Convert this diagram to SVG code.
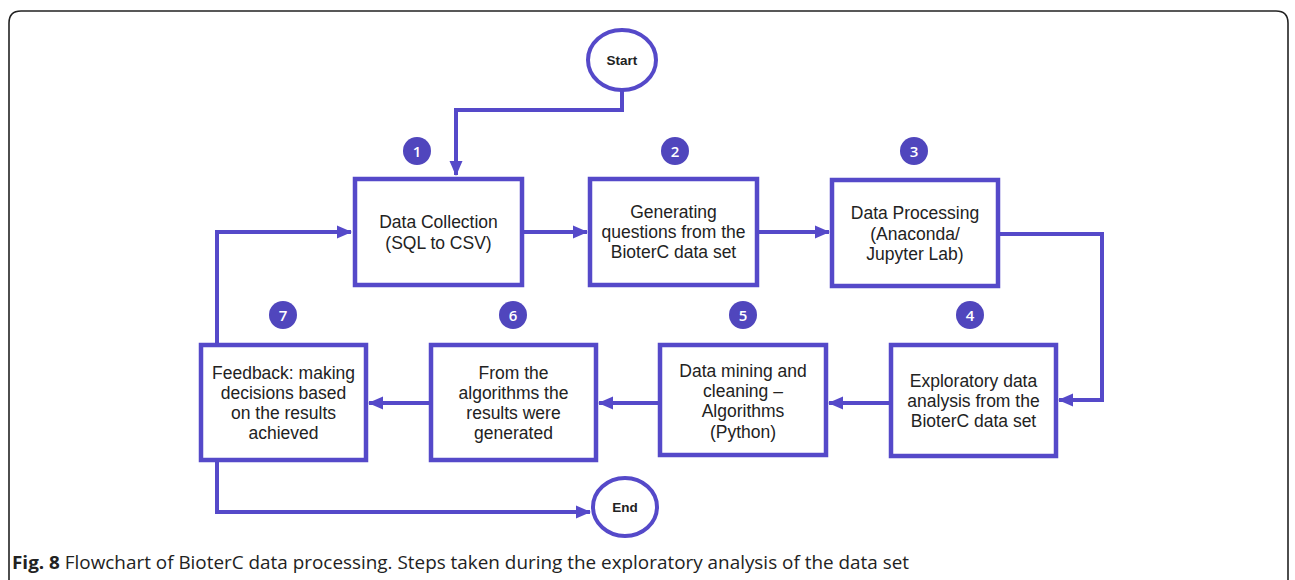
<svg xmlns="http://www.w3.org/2000/svg" width="1295" height="580" viewBox="0 0 1295 580">
<defs>
<style>
.box{fill:#fff;stroke:#5549c9;stroke-width:4.5}
.term{fill:#fff;stroke:#5549c9;stroke-width:4}
.con{fill:none;stroke:#5549c9;stroke-width:4}
.badge{fill:#5046bd}
.num{font-family:"Open Sans","DejaVu Sans",sans-serif;font-size:15px;font-weight:600;fill:#fff;text-anchor:middle}
.lbl{font-family:"Liberation Sans",Arial,sans-serif;font-size:17.5px;fill:#222;text-anchor:middle}
.tl{font-family:"Liberation Sans",Arial,sans-serif;font-size:13.5px;font-weight:bold;fill:#222;text-anchor:middle}
.cap{font-family:"Open Sans","DejaVu Sans",sans-serif;font-size:18px;fill:#222}
</style>
<marker id="ah" markerUnits="userSpaceOnUse" markerWidth="15" markerHeight="15" viewBox="0 0 15 15" refX="14" refY="7.5" orient="auto">
<path d="M0,1 L15,7.5 L0,14 Z" fill="#5549c9"/>
</marker>
</defs>
<rect width="1295" height="580" fill="#fff"/>
<path d="M9,590 L9,23 Q9,11 21,11 L1276,11 Q1288,11 1288,23 L1288,590" fill="none" stroke="#222" stroke-width="1.6"/>

<g id="connectors">
<path class="con" d="M622,90 L622,110 L456,110 L456,175" marker-end="url(#ah)"/>
<path class="con" d="M523,232 L587,232" marker-end="url(#ah)"/>
<path class="con" d="M758,232 L829,232" marker-end="url(#ah)"/>
<path class="con" d="M999,234 L1102,234 L1102,400 L1059,400" marker-end="url(#ah)"/>
<path class="con" d="M890,403 L829,403" marker-end="url(#ah)"/>
<path class="con" d="M659,403 L599,403" marker-end="url(#ah)"/>
<path class="con" d="M430,403 L369,403" marker-end="url(#ah)"/>
<path class="con" d="M217,344 L217,232 L351,232" marker-end="url(#ah)"/>
<path class="con" d="M217,461 L217,512 L590,512" marker-end="url(#ah)"/>
</g>

<g id="start">
<ellipse class="term" cx="622" cy="60" rx="34" ry="30"/>
<text class="tl" x="622" y="65">Start</text>
</g>
<g id="end">
<ellipse class="term" cx="625" cy="507" rx="32" ry="29"/>
<text class="tl" x="625" y="512">End</text>
</g>

<g id="step1">
<circle class="badge" cx="417" cy="151" r="14"/>
<text class="num" x="417" y="156.5">1</text>
<rect class="box" x="355" y="179" width="167" height="106"/>
<text class="lbl" x="438.5" y="228">Data Collection</text>
<text class="lbl" x="438.5" y="249">(SQL to CSV)</text>
</g>
<g id="step2">
<circle class="badge" cx="675" cy="151" r="14"/>
<text class="num" x="675" y="156.5">2</text>
<rect class="box" x="590" y="179" width="167" height="106"/>
<text class="lbl" x="673.5" y="218">Generating</text>
<text class="lbl" x="673.5" y="238">questions from the</text>
<text class="lbl" x="673.5" y="258">BioterC data set</text>
</g>
<g id="step3">
<circle class="badge" cx="914" cy="151" r="14"/>
<text class="num" x="914" y="156.5">3</text>
<rect class="box" x="832" y="180" width="166" height="106"/>
<text class="lbl" x="915" y="219">Data Processing</text>
<text class="lbl" x="915" y="240">(Anaconda/</text>
<text class="lbl" x="915" y="260">Jupyter Lab)</text>
</g>
<g id="step4">
<circle class="badge" cx="970" cy="315" r="14"/>
<text class="num" x="970" y="320.5">4</text>
<rect class="box" x="891" y="345" width="165" height="111"/>
<text class="lbl" x="973.5" y="387">Exploratory data</text>
<text class="lbl" x="973.5" y="407">analysis from the</text>
<text class="lbl" x="973.5" y="427">BioterC data set</text>
</g>
<g id="step5">
<circle class="badge" cx="743" cy="315" r="14"/>
<text class="num" x="743" y="320.5">5</text>
<rect class="box" x="660" y="345" width="166" height="110"/>
<text class="lbl" x="743" y="377">Data mining and</text>
<text class="lbl" x="743" y="397">cleaning –</text>
<text class="lbl" x="743" y="417">Algorithms</text>
<text class="lbl" x="743" y="438">(Python)</text>
</g>
<g id="step6">
<circle class="badge" cx="513" cy="315" r="14"/>
<text class="num" x="513" y="320.5">6</text>
<rect class="box" x="431" y="345" width="165" height="115"/>
<text class="lbl" x="513.5" y="379">From the</text>
<text class="lbl" x="513.5" y="399">algorithms the</text>
<text class="lbl" x="513.5" y="419">results were</text>
<text class="lbl" x="513.5" y="439">generated</text>
</g>
<g id="step7">
<circle class="badge" cx="283" cy="315" r="14"/>
<text class="num" x="283" y="320.5">7</text>
<rect class="box" x="201" y="345" width="165" height="115"/>
<text class="lbl" x="283.5" y="379">Feedback: making</text>
<text class="lbl" x="283.5" y="399">decisions based</text>
<text class="lbl" x="283.5" y="419">on the results</text>
<text class="lbl" x="283.5" y="439">achieved</text>
</g>

<text class="cap" x="12" y="569" textLength="897" lengthAdjust="spacingAndGlyphs"><tspan font-weight="bold">Fig. 8</tspan> Flowchart of BioterC data processing. Steps taken during the exploratory analysis of the data set</text>
</svg>
